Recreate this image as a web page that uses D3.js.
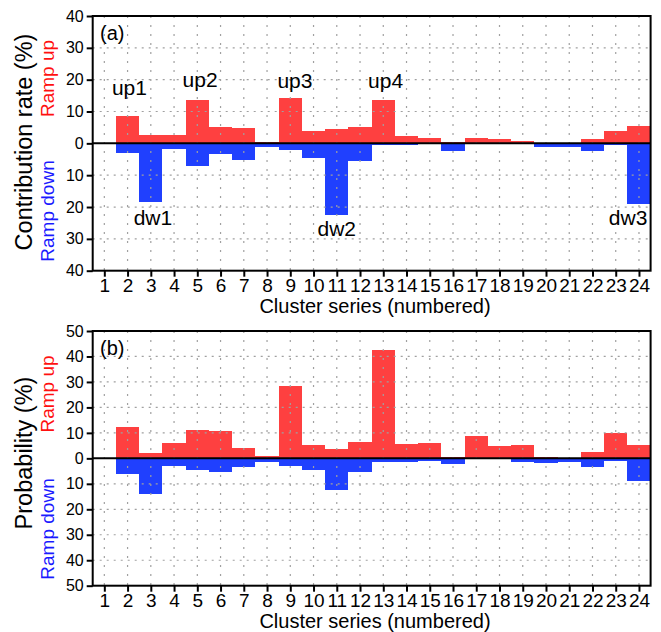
<!DOCTYPE html>
<html><head><meta charset="utf-8">
<script src="https://cdn.jsdelivr.net/npm/d3@7/dist/d3.min.js"></script>
<style>body{margin:0;background:#fff}svg{display:block}</style>
</head><body><svg id="c" width="661" height="632"></svg>
<script>
// ---- data ----
const clusters = [1,2,3,4,5,6,7,8,9,10,11,12,13,14,15,16,17,18,19,20,21,22,23,24];
// Panel (a): contribution rate (%)
const contribUp   = [0, 8.7, 2.7, 2.7, 13.7, 5.2, 4.9, 0.5, 14.4, 4.0, 4.6, 5.2, 13.5, 2.4, 1.8, 0.5, 1.8, 1.5, 0.8, 0, 0, 1.5, 4.0, 5.6];
const contribDown = [0, 2.9, 18.5, 1.7, 7.2, 3.2, 5.1, 1.0, 2.0, 4.5, 22.4, 5.7, 0.6, 0.5, 0.3, 2.3, 0.2, 0.2, 0.2, 1.2, 1.2, 2.5, 0.4, 18.9];
// Panel (b): probability (%)
const probUp   = [0.2, 12.3, 2.1, 6.0, 11.1, 10.7, 4.0, 0.9, 28.4, 5.2, 3.7, 6.4, 42.5, 5.6, 6.0, 0.5, 8.8, 4.8, 5.2, 0.5, 0.2, 2.5, 9.9, 5.2];
const probDown = [0, 6.0, 13.9, 2.9, 4.5, 5.2, 3.3, 1.3, 2.9, 4.5, 12.3, 5.4, 1.3, 1.3, 0.9, 2.1, 0.3, 0.3, 1.3, 1.7, 1.3, 3.3, 0.9, 8.8];
const ticksA = [-40,-30,-20,-10,0,10,20,30,40];
const ticksB = [-50,-40,-30,-20,-10,0,10,20,30,40,50];
const annotA = [
  {t:"up1", x:2.08, v:15.3}, {t:"up2", x:5.12, v:17.8}, {t:"up3", x:9.2, v:17.5}, {t:"up4", x:13.1, v:17.5},
  {t:"dw1", x:3.09, v:-25.6}, {t:"dw2", x:11.0, v:-29.0}, {t:"dw3", x:23.53, v:-25.6}
];

const svg = d3.select("#c");
const FONT = "'Liberation Sans', Arial, sans-serif";
const RED = "#fe4040", BLUE = "#2040fe";
const left = 92.7, right = 650.6;
const x = d3.scaleLinear().domain([0.5, 24.5]).range([left, right]);

function panel(cfg) {
  const y = d3.scaleLinear().domain([cfg.ticks[0], cfg.ticks[cfg.ticks.length-1]]).range([cfg.bottom, cfg.top]);
  const g = svg.append("g");
  // bars
  g.selectAll(".up").data(clusters).join("rect")
    .attr("x", d => x(d - 0.5)).attr("width", d => x(d + 0.5) - x(d - 0.5))
    .attr("y", (d,i) => y(cfg.up[i])).attr("height", (d,i) => y(0) - y(cfg.up[i]))
    .attr("fill", RED).attr("shape-rendering", "crispEdges");
  g.selectAll(".dn").data(clusters).join("rect")
    .attr("x", d => x(d - 0.5)).attr("width", d => x(d + 0.5) - x(d - 0.5))
    .attr("y", y(0)).attr("height", (d,i) => y(-cfg.down[i]) - y(0))
    .attr("fill", BLUE).attr("shape-rendering", "crispEdges");
  // grid (dotted, over bars)
  g.selectAll(".vg").data(clusters).join("line")
    .attr("x1", d => x(d)).attr("x2", d => x(d)).attr("y1", cfg.top).attr("y2", cfg.bottom)
    .attr("stroke", "#a0a0a0").attr("stroke-width", 1.2).attr("stroke-dasharray", "2,7");
  g.selectAll(".hg").data(cfg.ticks.filter(t => t !== 0 && Math.abs(t) !== cfg.ticks[cfg.ticks.length-1])).join("line")
    .attr("x1", left).attr("x2", right).attr("y1", d => y(d)).attr("y2", d => y(d))
    .attr("stroke", "#a0a0a0").attr("stroke-width", 1.2).attr("stroke-dasharray", "2,5");
  // zero line
  g.append("line").attr("x1", left).attr("x2", right).attr("y1", y(0)).attr("y2", y(0))
    .attr("stroke", "#000").attr("stroke-width", 2);
  // frame
  g.append("rect").attr("x", left).attr("y", cfg.top).attr("width", right - left).attr("height", cfg.bottom - cfg.top)
    .attr("fill", "none").attr("stroke", "#000").attr("stroke-width", 2);
  // axes
  const ya = g.append("g").attr("transform", `translate(${left},0)`)
    .call(d3.axisLeft(y).tickValues(cfg.ticks).tickSize(6).tickPadding(3).tickFormat(d => Math.abs(d)));
  ya.select(".domain").remove();
  ya.selectAll("line").attr("stroke-width", 2);
  ya.selectAll("text").attr("font-family", FONT).attr("font-size", 16).attr("fill", "#000");
  const xa = g.append("g").attr("transform", `translate(0,${cfg.bottom})`)
    .call(d3.axisBottom(x).tickValues(clusters).tickSize(6).tickPadding(2).tickFormat(d3.format("d")));
  xa.select(".domain").remove();
  xa.selectAll("line").attr("stroke-width", 2);
  xa.selectAll("text").attr("font-family", "'Liberation Sans Narrow', " + FONT).attr("font-size", 19).attr("fill", "#000");
  // x title
  g.append("text").attr("x", 375).attr("y", cfg.bottom + 42).attr("text-anchor", "middle")
    .attr("font-family", FONT).attr("font-size", 20).text("Cluster series (numbered)");
  // y titles
  g.append("text").attr("transform", `translate(32,${cfg.titleY}) rotate(-90)`).attr("text-anchor", "middle")
    .attr("font-family", FONT).attr("font-size", 23.5).text(cfg.title);
  g.append("text").attr("transform", `translate(54,${cfg.upY}) rotate(-90)`).attr("text-anchor", "middle")
    .attr("font-family", FONT).attr("font-size", 19).attr("fill", "#ff1010").text("Ramp up");
  g.append("text").attr("transform", `translate(54,${cfg.downY}) rotate(-90)`).attr("text-anchor", "middle")
    .attr("font-family", FONT).attr("font-size", 19).attr("fill", "#1a1aff").text("Ramp down");
  // panel label
  g.append("text").attr("x", 100).attr("y", cfg.top + 24).attr("font-family", FONT).attr("font-size", 20).text(cfg.label);
  // annotations
  (cfg.annot || []).forEach(a => {
    g.append("text").attr("x", x(a.x)).attr("y", y(a.v)).attr("text-anchor", "middle")
      .attr("font-family", FONT).attr("font-size", 21).text(a.t);
  });
}

panel({top: 16, bottom: 270.7, ticks: ticksA, up: contribUp, down: contribDown,
  title: "Contribution rate (%)", titleY: 142, upY: 78.5, downY: 211, label: "(a)", annot: annotA});
panel({top: 331, bottom: 585.7, ticks: ticksB, up: probUp, down: probDown,
  title: "Probability (%)", titleY: 453, upY: 394, downY: 529, label: "(b)"});
</script>
</body></html>
